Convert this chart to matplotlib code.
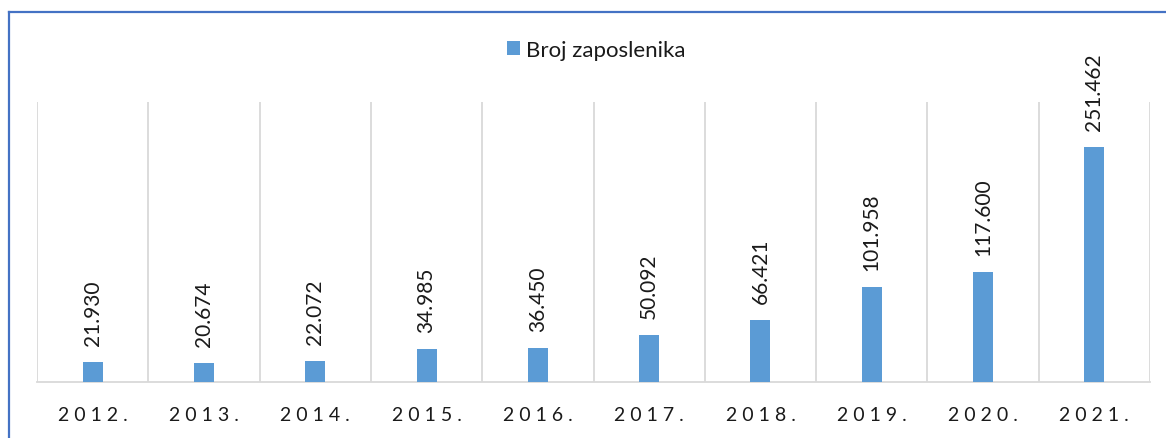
import matplotlib
matplotlib.use("Agg")
import matplotlib.pyplot as plt
from matplotlib.lines import Line2D

years = ["2012.", "2013.", "2014.", "2015.", "2016.", "2017.", "2018.", "2019.", "2020.", "2021."]
employees = [21.930, 20.674, 22.072, 34.985, 36.450, 50.092, 66.421, 101.958, 117.600, 251.462]
value_labels = ["21.930", "20.674", "22.072", "34.985", "36.450", "50.092", "66.421", "101.958", "117.600", "251.462"]
series_name = "Broj zaposlenika"

BAR = "#5b9bd5"
GRID = "#d9d9d9"
TEXT = "#1a1a1a"
FRAME = "#4472c4"

plt.rcParams["font.family"] = ["Lato", "DejaVu Sans"]

W, H = 1166, 439
fig = plt.figure(figsize=(W / 100, H / 100), dpi=100)
ax = fig.add_axes([37 / W, 56 / H, (1150 - 37) / W, 280 / H])

x = list(range(len(years)))
bars = ax.bar(x, employees, width=0.18, color=BAR, label=series_name, zorder=3)

ax.set_xlim(-0.5, len(years) - 0.5)
ax.set_ylim(0, 300)

# category separators
ax.vlines([i - 0.5 for i in range(len(years) + 1)], 0, 300, color=GRID, lw=1.3, zorder=1)

for b, txt in zip(bars, value_labels):
    ax.annotate(txt, (b.get_x() + b.get_width() / 2, b.get_height()),
                xytext=(0, 17), textcoords="offset pixels", rotation=90,
                ha="center", va="bottom", fontsize=15, color=TEXT)

for s in ["top", "right", "left"]:
    ax.spines[s].set_visible(False)
ax.spines["bottom"].set_color(GRID)
ax.spines["bottom"].set_linewidth(1.3)
ax.set_yticks([])
ax.set_xticks(x)
ax.set_xticklabels([" ".join(y) for y in years], fontsize=14, color=TEXT)
ax.tick_params(axis="x", length=0, pad=17)

fig.legend(loc="center", bbox_to_anchor=(596 / W, (H - 51) / H), frameon=False,
           fontsize=16, handlelength=0.6, handleheight=0.6, handletextpad=0.25,
           labelcolor=TEXT)

# outer chart frame (only left and top edges visible in the crop)
fig.add_artist(Line2D([9 / W, 9 / W], [0, (H - 13) / H], color=FRAME, lw=1.6))
fig.add_artist(Line2D([9 / W, 1], [(H - 13) / H, (H - 13) / H], color=FRAME, lw=1.6))

fig.savefig("out.png", dpi=100)
